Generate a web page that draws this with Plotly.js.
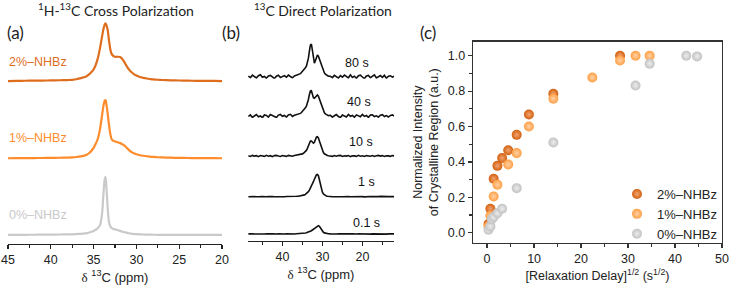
<!DOCTYPE html>
<html>
<head>
<meta charset="utf-8">
<script src="https://cdn.plot.ly/plotly-3.0.1.min.js"></script>
<style>html,body{margin:0;padding:0;background:#fff;}#chart{width:729px;height:288px;}</style>
</head>
<body>
<div id="chart"></div>
<script>
// ---------- Panel (a): 1H-13C cross polarization spectra (normalized) ----------
const ppmA = [45,44,43,42,41,40,39,38,37.5,37,36.5,36,35.75,35.5,35.25,35,34.75,34.5,34.25,34,33.85,33.7,33.6,33.5,33.35,33.2,33.05,32.9,32.7,32.5,32.3,32.1,31.9,31.7,31.5,31.3,31.1,30.9,30.6,30.3,30,29.6,29.2,28.8,28.4,28,27.5,27,26,25,24,23,22,21,20];
const cp2 = [0,0.003,0.005,0.006,0.008,0.01,0.013,0.017,0.02,0.03,0.05,0.07,0.09,0.12,0.155,0.2,0.28,0.4,0.57,0.78,0.9,0.98,1.0,0.97,0.88,0.7,0.55,0.47,0.435,0.42,0.42,0.42,0.415,0.39,0.35,0.3,0.25,0.205,0.155,0.12,0.095,0.07,0.055,0.043,0.035,0.028,0.022,0.018,0.012,0.009,0.006,0.004,0.003,0.001,0];
const cp1 = [0,0.002,0.003,0.004,0.005,0.007,0.009,0.012,0.015,0.022,0.033,0.05,0.065,0.09,0.13,0.18,0.25,0.34,0.5,0.75,0.9,0.99,1.0,0.92,0.76,0.57,0.42,0.33,0.3,0.29,0.28,0.27,0.26,0.245,0.23,0.205,0.175,0.145,0.11,0.085,0.068,0.052,0.043,0.035,0.028,0.023,0.018,0.014,0.01,0.007,0.005,0.003,0.002,0.001,0];
const cp0 = [0,0.002,0.003,0.004,0.005,0.006,0.008,0.01,0.012,0.015,0.02,0.027,0.033,0.042,0.055,0.07,0.09,0.12,0.17,0.38,0.7,0.96,1.0,0.82,0.45,0.22,0.15,0.12,0.105,0.097,0.09,0.08,0.07,0.06,0.052,0.044,0.037,0.03,0.023,0.017,0.013,0.01,0.008,0.006,0.005,0.004,0.003,0.002,0.001,0,0,0,0,0,0];
const cpNames = ['2%–NHBz','1%–NHBz','0%–NHBz'];

// ---------- Panel (b): 13C direct polarization spectra ----------
const ppmB = [48.5,48,47.5,47,46.5,46,45.5,45,44.5,44,43.5,43,42.5,42,41.5,41,40.5,40,39.5,39,38.5,38,37.5,37,36.5,36,
 35.5,35.25,35,34.75,34.5,34.25,34,33.75,33.5,33.25,33,32.75,32.5,32.25,32,31.75,31.5,31.25,31,30.75,30.5,30.25,30,29.75,29.5,29.25,29,28.75,28.5,
 28,27.5,27,26.5,26,25.5,25,24.5,24,23.5,23,22.5,22,21.5,21,20.5,20,19.5,19,18.5,18,17.5,17,16.5,16,15.5,15,14.5,14,13.5,13,12.5,12];
const dp80 = [0.6,-1.0,1.5,0.3,-1.3,1.0,1.9,-0.6,0.2,-1.5,0.7,1.3,-0.4,-1.8,0.5,1.4,-0.8,0.3,1.1,-0.5,1.6,0.2,-1.1,0.7,1.4,2.2,
 3.0,4.2,5.2,6.3,7.5,9,10.5,13.5,18.5,25.5,31.5,32.7,25,16.5,13.5,16,20,21.7,20.5,17.5,14,11,8,5.5,3.8,2.5,1.6,1.0,0.5,
 0.4,-0.9,1.3,0.2,-1.4,1.1,-0.5,1.6,0.1,-1.1,1.9,-0.8,0.5,-1.6,1.0,1.5,-0.3,-1.9,0.8,1.3,-1.0,0.4,1.8,-1.3,0.2,1.1,-0.6,1.4,-1.5,0.5,0.9,-0.4,0.6];
const dp40 = [-0.5,1.1,-1.4,0.4,1.5,-0.8,0.1,-1.6,1.0,0.5,-1.1,1.4,0.2,-0.6,-1.5,0.9,1.6,-0.3,0.6,-1.0,1.1,1.7,-0.4,0.8,1.2,1.8,
 2.6,3.5,4.5,5.5,6.8,8.2,9.8,12.5,16.5,21.5,25,25.3,21,18.2,17.7,19,20.5,21,19.8,17,13.5,10,7,4.8,3.2,2.1,1.3,0.8,0.4,
 0.7,-1.1,0.2,1.4,-0.5,-1.5,1.0,0.4,-0.9,1.6,-0.3,0.6,-1.2,1.1,0.1,-0.8,1.5,-0.4,0.5,-1.4,0.9,1.2,-0.6,0.2,-1.1,0.8,1.3,-0.5,0.4,-1.0,0.6,1.1,-0.2];
const dp10 = [0.2,-0.5,0.6,-0.1,0.4,-0.6,0.5,0.1,-0.4,0.7,-0.2,0.3,-0.7,0.4,0.6,-0.1,-0.5,0.5,0.1,-0.4,0.6,0.2,-0.2,0.5,0.8,1.0,
 1.3,1.7,2.1,2.7,3.4,4.3,5.6,7.6,10.5,13.5,15,15,13.5,12.8,13.8,16.5,18.8,19.3,18,15,11.5,8,5.5,3.5,2.2,1.4,0.9,0.5,0.3,
 0.1,-0.4,0.5,-0.2,0.4,0.6,-0.5,0.2,-0.1,0.5,-0.6,0.3,0.1,-0.4,0.7,-0.2,0.2,-0.5,0.4,0.1,-0.2,0.5,-0.4,0.2,0.6,-0.1,0.4,-0.5,0.2,0.1,-0.3,0.4,0];
const dp1 = [0,0.2,-0.1,0.1,0,-0.2,0.1,0.2,-0.1,0,0.1,-0.2,0.2,0,-0.1,0.1,0.2,0,-0.1,0.2,0.1,0,0.2,0.3,0.4,0.5,
 0.7,0.9,1.1,1.4,1.8,2.3,3.0,3.8,5,6.5,8.3,10.3,12.5,15,17.5,20,21.8,22.3,21,17,12,7.5,4.5,2.8,1.7,1.0,0.6,0.4,0.2,
 0.1,0,-0.1,0.1,0.2,0,-0.1,0.1,0,0.2,-0.1,0,0.1,0.2,-0.1,0,0.1,-0.2,0.1,0,0.2,0.1,-0.1,0,0.1,0.3,0.1,-0.1,0,0.1,0.2,0,0.1];
const dp01 = [0.1,-0.2,0.2,0,-0.1,0.2,0.1,-0.2,0,0.2,-0.1,0.1,0.2,-0.2,0,0.1,-0.1,0.2,0,0.1,-0.1,0.2,0.1,0,0.3,0.3,
 0.4,0.5,0.6,0.7,0.9,1.0,1.2,1.5,1.8,2.2,2.7,3.3,4.0,4.8,5.7,6.6,7.5,8.1,8.3,7.6,6,4.2,2.7,1.7,1.1,0.7,0.5,0.3,0.2,
 0.1,-0.1,0.2,0,0.1,-0.2,0.1,0.2,0,-0.1,0.1,0.2,-0.1,0,0.2,0.1,-0.2,0.1,0,0.2,-0.1,0.1,0,0.2,-0.1,0.1,0.2,0,-0.1,0.1,0,0.2,0.1];
const dpLabels = ['80 s','40 s','10 s','1 s','0.1 s'];

// ---------- Panel (c): normalized intensity vs sqrt(relaxation delay) ----------
const x2 = [0.3,0.7,1.4,2.2,3.2,4.5,6.3,8.9,14.1,28.3];
const y2 = [0.05,0.136,0.305,0.378,0.422,0.466,0.553,0.668,0.785,1.0];
const x1 = [0.3,0.7,1.4,2.2,4.5,6.3,8.9,14.1,22.4,28.3,31.6,34.6];
const y1 = [0.036,0.096,0.205,0.271,0.386,0.45,0.6,0.757,0.877,0.973,1.0,1.0];
const x0 = [0.3,0.7,1.0,1.4,2.2,3.2,6.3,14.1,31.6,34.6,42.4,44.7];
const y0 = [0.017,0.036,0.077,0.089,0.111,0.136,0.252,0.51,0.832,0.955,1.0,0.996];
const seriesNames = ['2%–NHBz','1%–NHBz','0%–NHBz'];

// ---------- styling ----------
const W = 729, H = 288;
const px = v => v / W;          // pixel -> paper x
const py = v => 1 - v / H;      // pixel -> paper y
const cpColors = ['#DE6D1E','#FF8C2C','#C9C9C9'];
const ptColors = ['#D2600F','#FF9F45','#C2C2C2'];
const ptCenters = ['#F2A470','#FFD2A6','#EDEDED'];
const sans = "'Liberation Sans', Arial, Helvetica, sans-serif";
const cal = "Lato, Carlito, Calibri, sans-serif";

const data = [];
// panel a
[cp2, cp1, cp0].forEach((ys, i) => {
  data.push({x: ppmA, y: ys, type: 'scatter', mode: 'lines', xaxis: 'x', yaxis: i === 0 ? 'y' : 'y' + (i + 1),
    line: {color: cpColors[i], width: 2.2, shape: 'spline', smoothing: 0.5}, showlegend: false, hoverinfo: 'skip'});
});
// panel b
[dp80, dp40, dp10, dp1, dp01].forEach((ys, i) => {
  data.push({x: ppmB, y: ys, type: 'scatter', mode: 'lines', xaxis: 'x2', yaxis: 'y' + (i + 4),
    line: {color: '#111', width: 1.6}, showlegend: false, hoverinfo: 'skip'});
});
// panel c
[[x2, y2], [x1, y1], [x0, y0]].forEach((s, i) => {
  data.push({x: s[0], y: s[1], type: 'scatter', mode: 'markers', name: seriesNames[i], xaxis: 'x3', yaxis: 'y9',
    marker: {size: 10, color: ptColors[i], line: {width: 0}, gradient: {type: 'radial', color: ptCenters[i]}}});
});

// domains of stacked spectra (pixel rows)
const aRows = [[17.5, 86.8], [94.2, 164.1], [170.9, 240.8]];
const bBase = [76.7, 116, 156, 196.7, 234];

const layout = {
  width: W, height: H,
  margin: {l: 0, r: 0, t: 0, b: 0},
  paper_bgcolor: '#fff', plot_bgcolor: 'rgba(0,0,0,0)',
  font: {family: sans, size: 12, color: '#222'},
  showlegend: true,
  legend: {x: px(617), y: py(214), xanchor: 'left', yanchor: 'middle', bgcolor: 'rgba(0,0,0,0)',
    font: {family: sans, size: 13, color: '#222'}, tracegroupgap: 0},
  xaxis: {domain: [px(8), px(222)], range: [45, 20], anchor: 'free', position: py(244),
    showline: true, linecolor: '#222', linewidth: 1.3, ticks: 'outside', ticklen: 4, tickwidth: 1.2, tickcolor: '#222',
    tick0: 20, dtick: 5, showgrid: false, zeroline: false,
    minor: {dtick: 2.5, ticks: 'outside', ticklen: 2.5, tickcolor: '#222', showgrid: false},
    tickfont: {family: sans, size: 12.5}, title: {text: '<span style="font-family:Liberation Serif">δ</span> <sup>13</sup>C (ppm)', font: {family: sans, size: 13}, standoff: 6}},
  xaxis2: {domain: [px(248), px(394)], range: [48.6, 12.1], anchor: 'free', position: py(241),
    showline: true, linecolor: '#222', linewidth: 1.3, ticks: 'outside', ticklen: 4, tickwidth: 1.2, tickcolor: '#222',
    tick0: 0, dtick: 10, showgrid: false, zeroline: false,
    minor: {dtick: 5, ticks: 'outside', ticklen: 2.5, tickcolor: '#222', showgrid: false},
    tickfont: {family: sans, size: 12.5}, title: {text: '<span style="font-family:Liberation Serif">δ</span> <sup>13</sup>C (ppm)', font: {family: sans, size: 13}, standoff: 6}},
  xaxis3: {domain: [px(473), px(722)], range: [-3, 50], anchor: 'y9',
    showline: true, mirror: true, linecolor: '#333', linewidth: 1.3, ticks: 'outside', ticklen: 4, tickwidth: 1.2, tickcolor: '#333',
    tick0: 0, dtick: 10, showgrid: false, zeroline: false,
    minor: {dtick: 5, ticks: 'outside', ticklen: 2.5, tickcolor: '#333', showgrid: false},
    tickfont: {family: sans, size: 12.5}, title: {text: '[Relaxation Delay]<sup>1/2</sup> (s<sup>1/2</sup>)', font: {family: sans, size: 12.5}, standoff: 6}},
  yaxis9: {domain: [py(242.7), py(41.7)], range: [-0.056, 1.079], anchor: 'x3',
    showline: true, mirror: true, linecolor: '#333', linewidth: 1.3, ticks: 'outside', ticklen: 4, tickwidth: 1.2, tickcolor: '#333',
    tick0: 0, dtick: 0.2, tickformat: '.1f', showgrid: false, zeroline: false,
    minor: {dtick: 0.1, ticks: 'outside', ticklen: 2.5, tickcolor: '#333', showgrid: false},
    tickfont: {family: sans, size: 12.5}, title: {text: 'Normalized Intensity<br>of Crystalline Region (a.u.)', font: {family: sans, size: 12.5}, standoff: 6}},
  annotations: [
    {text: '<sup>1</sup>H-<sup>13</sup>C Cross Polarization', x: px(116), y: py(10), font: {family: cal, size: 14, color: '#222'}},
    {text: '<sup>13</sup>C Direct Polarization', x: px(323), y: py(10), font: {family: cal, size: 14, color: '#222'}},
    {text: '(a)', x: px(16), y: py(32), font: {family: cal, size: 17, color: '#222'}},
    {text: '(b)', x: px(231), y: py(32), font: {family: cal, size: 17, color: '#222'}},
    {text: '(c)', x: px(428), y: py(32), font: {family: cal, size: 17, color: '#222'}}
  ]
};
layout.annotations.forEach(a => { a.xref = 'paper'; a.yref = 'paper'; a.showarrow = false; a.xanchor = 'center'; a.yanchor = 'middle'; });

// panel a stacked y axes and labels
const aLabelY = [62, 138, 215];
aRows.forEach((r, i) => {
  const key = i === 0 ? 'yaxis' : 'yaxis' + (i + 1);
  layout[key] = {domain: [py(r[1]), py(r[0])], range: [-0.1, 1.1], visible: false, anchor: 'x', fixedrange: true};
  layout.annotations.push({text: cpNames[i], xref: 'paper', yref: 'paper', x: px(7), y: py(aLabelY[i]), xanchor: 'left', yanchor: 'middle',
    showarrow: false, font: {family: sans, size: 12.5, color: cpColors[i]}});
});
// panel b stacked y axes and labels
const bLabelPos = [[357, 63], [359, 102], [361, 142], [366, 182], [366, 223]];
bBase.forEach((b, i) => {
  layout['yaxis' + (i + 4)] = {domain: [py(b + 2), py(b - 34)], range: [-2, 34], visible: false, anchor: 'x2', fixedrange: true};
  layout.annotations.push({text: dpLabels[i], xref: 'paper', yref: 'paper', x: px(bLabelPos[i][0]), y: py(bLabelPos[i][1]),
    xanchor: 'center', yanchor: 'middle', showarrow: false, font: {family: sans, size: 12.5, color: '#111'}});
});

Plotly.newPlot('chart', data, layout, {displayModeBar: false, staticPlot: true});
</script>
</body>
</html>
